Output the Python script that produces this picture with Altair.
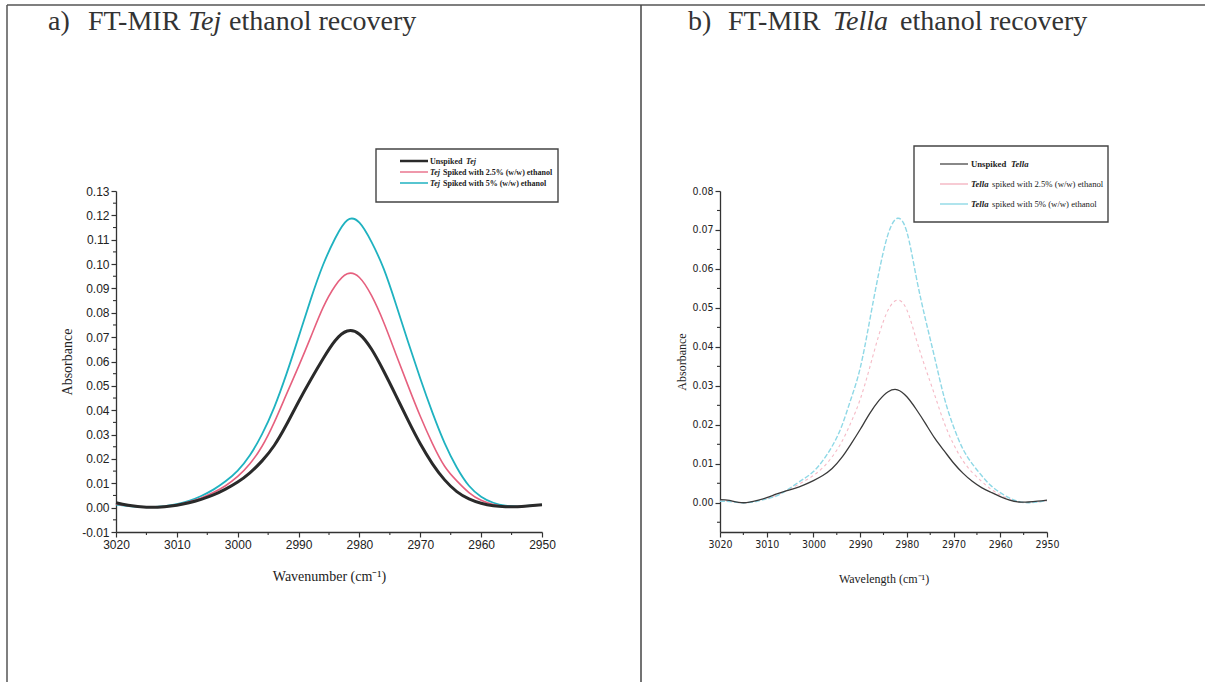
import altair as alt
import pandas as pd

# ---------------- data ----------------
WN = [3020, 3018, 3015, 3012, 3010, 3008, 3006, 3004, 3002, 3000, 2998, 2996,
      2994, 2992, 2990, 2988, 2986, 2984, 2982, 2980, 2978, 2976, 2974, 2972,
      2970, 2968, 2966, 2964, 2962, 2960, 2958, 2956, 2954, 2952, 2950]

TEJ_UNSPIKED = [0.0020, 0.0010, 0.0002, 0.0004, 0.0010, 0.0020, 0.0034, 0.0052, 0.0076, 0.0105,
                0.0143, 0.0192, 0.0255, 0.0340, 0.0435, 0.0525, 0.0610, 0.0685, 0.0725, 0.0712,
                0.0650, 0.0560, 0.0460, 0.0358, 0.0262, 0.0180, 0.0114, 0.0066, 0.0036, 0.0018,
                0.0008, 0.0004, 0.0004, 0.0008, 0.0012]
TEJ_25 = [0.0015, 0.0008, 0.0002, 0.0005, 0.0012, 0.0024, 0.0040, 0.0062, 0.0090, 0.0128,
          0.0180, 0.0252, 0.0350, 0.0465, 0.0580, 0.0700, 0.0820, 0.0910, 0.0960, 0.0945,
          0.0870, 0.0760, 0.0630, 0.0500, 0.0375, 0.0263, 0.0170, 0.0110, 0.0062, 0.0030,
          0.0013, 0.0005, 0.0004, 0.0007, 0.0012]
TEJ_5 = [0.0012, 0.0006, 0.0002, 0.0006, 0.0014, 0.0028, 0.0048, 0.0074, 0.0108, 0.0152,
         0.0215, 0.0302, 0.0412, 0.0548, 0.0700, 0.0855, 0.0995, 0.1105, 0.1180, 0.1170,
         0.1090, 0.0980, 0.0835, 0.0680, 0.0530, 0.0390, 0.0265, 0.0165, 0.0090, 0.0045,
         0.0020, 0.0008, 0.0005, 0.0008, 0.0012]

TELLA_UNSPIKED = [0.0008, 0.0006, 0.0000, 0.0006, 0.0013, 0.0022, 0.0030, 0.0037, 0.0046, 0.0057,
                  0.0070, 0.0088, 0.0115, 0.0150, 0.0188, 0.0228, 0.0262, 0.0285, 0.0290, 0.0272,
                  0.0240, 0.0203, 0.0165, 0.0133, 0.0102, 0.0076, 0.0055, 0.0039, 0.0027, 0.0016,
                  0.0007, 0.0002, 0.0002, 0.0004, 0.0007]
TELLA_25 = [0.0005, 0.0004, 0.0000, 0.0005, 0.0011, 0.0019, 0.0030, 0.0042, 0.0055, 0.0070,
            0.0090, 0.0118, 0.0155, 0.0205, 0.0265, 0.0345, 0.0430, 0.0495, 0.0520, 0.0495,
            0.0420, 0.0345, 0.0275, 0.0205, 0.0150, 0.0108, 0.0078, 0.0055, 0.0035, 0.0020,
            0.0009, 0.0002, 0.0000, 0.0002, 0.0005]
TELLA_5 = [0.0004, 0.0003, 0.0000, 0.0004, 0.0010, 0.0017, 0.0030, 0.0046, 0.0062, 0.0080,
           0.0108, 0.0145, 0.0195, 0.0265, 0.0345, 0.0465, 0.0590, 0.0690, 0.0730, 0.0695,
           0.0580, 0.0470, 0.0370, 0.0270, 0.0195, 0.0138, 0.0100, 0.0070, 0.0044, 0.0026,
           0.0012, 0.0003, 0.0000, 0.0002, 0.0005]

X_TICKS = [3020, 3010, 3000, 2990, 2980, 2970, 2960, 2950]
X_MINOR = [3015, 3005, 2995, 2985, 2975, 2965, 2955]
YA_TICKS = [-0.01, 0.00, 0.01, 0.02, 0.03, 0.04, 0.05, 0.06, 0.07, 0.08, 0.09, 0.10, 0.11, 0.12, 0.13]
YA_MINOR = [-0.005, 0.005, 0.015, 0.025, 0.035, 0.045, 0.055, 0.065, 0.075, 0.085, 0.095,
            0.105, 0.115, 0.125]
YB_TICKS = [0.00, 0.01, 0.02, 0.03, 0.04, 0.05, 0.06, 0.07, 0.08]
YB_MINOR = [-0.005, 0.005, 0.015, 0.025, 0.035, 0.045, 0.055, 0.065, 0.075]

SERIF = "Liberation Serif, Times New Roman, serif"
SANS = "Liberation Sans, Arial, sans-serif"
NARROW = "Liberation Sans Narrow, DejaVu Sans Condensed, Liberation Sans, sans-serif"
MINUS = "replace(datum.label, '\u2212', '-')"

WA, HA = 426, 341
WB, HB = 327, 341

one = pd.DataFrame({"k": [0]})


def txt(s, x, y, size, font=SERIF, italic=False, bold=False, align="left",
        baseline="alphabetic", color="#222"):
    return alt.Chart(one).mark_text(
        text=s, align=align, baseline=baseline, font=font, fontSize=size,
        fontStyle="italic" if italic else "normal",
        fontWeight="bold" if bold else "normal", color=color,
    ).encode(x=alt.value(x), y=alt.value(y))


def hline(x1, x2, y, color, width, dash=None, opacity=1.0):
    kw = dict(color=color, strokeWidth=width, opacity=opacity)
    if dash:
        kw["strokeDash"] = dash
    return alt.Chart(one).mark_rule(**kw).encode(
        x=alt.value(x1), x2=alt.value(x2), y=alt.value(y))


def vline(x, y1, y2, color, width):
    return alt.Chart(one).mark_rule(color=color, strokeWidth=width).encode(
        x=alt.value(x), y=alt.value(y1), y2=alt.value(y2))


def box(x1, x2, y1, y2):
    return alt.Chart(one).mark_rect(fill="white", stroke="#444", strokeWidth=1.4).encode(
        x=alt.value(x1), x2=alt.value(x2), y=alt.value(y1), y2=alt.value(y2))


def panel(series, ydom, yticks, yminor, h, xtitle, lab_font, lab_size,
          t_size, xtitle_pad, ytitle_pad):
    xs = alt.Scale(domain=[2950, 3020], reverse=True, nice=False, zero=False)
    ys = alt.Scale(domain=ydom, nice=False, zero=False)
    xax = alt.Axis(values=X_TICKS, format="d", title=xtitle, tickSize=5, tickWidth=1.2,
                   tickColor="#333", domainColor="#333", domainWidth=1.3,
                   labelFont=lab_font, labelFontSize=lab_size, labelColor="#222",
                   labelPadding=2, labelFlush=False, labelOverlap=False,
                   titleFont=SERIF, titleFontSize=t_size, titleFontWeight="normal",
                   titleColor="#222", titlePadding=xtitle_pad, grid=False)
    yax = alt.Axis(values=yticks, format=".2f", labelExpr=MINUS, title="Absorbance",
                   tickSize=5, tickWidth=1.2, tickColor="#333", domainColor="#333",
                   domainWidth=1.3, labelFont=lab_font, labelFontSize=lab_size,
                   labelColor="#222", labelPadding=2, labelFlush=False, labelOverlap=False,
                   titleFont=SERIF, titleFontSize=t_size, titleFontWeight="normal",
                   titleColor="#222", titlePadding=ytitle_pad, grid=False)
    layers = []
    for vals, name, color, width, dash, op in series:
        df = pd.DataFrame({"W": WN, "A": vals, "s": name})
        kw = dict(color=color, strokeWidth=width, interpolate="natural", opacity=op)
        if dash:
            kw["strokeDash"] = dash
        layers.append(alt.Chart(df).mark_line(**kw).encode(
            x=alt.X("W:Q", scale=xs, axis=xax),
            y=alt.Y("A:Q", scale=ys, axis=yax)))
    ym = pd.DataFrame({"A": yminor})
    layers.append(alt.Chart(ym).mark_rule(color="#333", strokeWidth=1.1).encode(
        y=alt.Y("A:Q", scale=ys, axis=yax), x=alt.value(0), x2=alt.value(-3)))
    xm = pd.DataFrame({"W": X_MINOR})
    layers.append(alt.Chart(xm).mark_rule(color="#333", strokeWidth=1.1).encode(
        x=alt.X("W:Q", scale=xs, axis=xax), y=alt.value(h), y2=alt.value(h + 3)))
    return layers


# ---------------- panel a ----------------
ser_a = [
    (TEJ_5, "5", "#1fb2c0", 1.8, None, 1.0),
    (TEJ_25, "2.5", "#e6607e", 1.6, None, 1.0),
    (TEJ_UNSPIKED, "0", "#2a2a2a", 3.0, None, 1.0),
]
layers_a = panel(ser_a, [-0.01, 0.13], YA_TICKS, YA_MINOR, HA,
                 "Wavenumber (cm\u207b\u00b9)", SANS, 12, 14, 19, 7)

# frame (relative to panel a origin)
frame = [
    hline(-109, 1089, -186, "#555", 1.5),
    vline(-109, -186, 491, "#555", 1.5),
    vline(525, -186, 491, "#444", 1.5),
]
# titles
ty = -161
TS = 28
title_a = [
    txt("a)", -68, ty, TS, color="#333"),
    txt("FT-MIR", -28, ty, TS, color="#333"),
    txt("Tej", 72, ty, TS, italic=True, color="#333"),
    txt("ethanol recovery", 113, ty, TS, color="#333"),
]
title_b = [
    txt("b)", 572, ty, TS, color="#333"),
    txt("FT-MIR", 612, ty, TS, color="#333"),
    txt("Tella", 717, ty, TS, italic=True, color="#333"),
    txt("ethanol recovery", 784, ty, TS, color="#333"),
]
# legend a
LA_X0, LA_X1, LA_T = 284, 312, 314
rows_a = [-30, -19, -8]
legend_a = [
    box(260, 442, -42, 11),
    hline(LA_X0, LA_X1, rows_a[0], "#2a2a2a", 2.5),
    hline(LA_X0, LA_X1, rows_a[1], "#e6607e", 1.3),
    hline(LA_X0, LA_X1, rows_a[2], "#1fb2c0", 1.5),
    txt("Unspiked", LA_T, rows_a[0] + 3, 8, bold=True),
    txt("Tej", LA_T + 36, rows_a[0] + 3, 8, bold=True, italic=True),
    txt("Tej", LA_T, rows_a[1] + 3, 8, bold=True, italic=True),
    txt("Spiked with 2.5% (w/w) ethanol", LA_T + 13, rows_a[1] + 3, 8, bold=True),
    txt("Tej", LA_T, rows_a[2] + 3, 8, bold=True, italic=True),
    txt("Spiked with 5% (w/w) ethanol", LA_T + 13, rows_a[2] + 3, 8, bold=True),
]

chart_a = alt.layer(*layers_a, *frame, *title_a, *title_b, *legend_a).properties(
    width=WA, height=HA)

# ---------------- panel b ----------------
ser_b = [
    (TELLA_25, "2.5", "#f2a9b8", 1.1, [3, 3], 0.8),
    (TELLA_5, "5", "#8fd8e6", 1.4, [5, 2], 1.0),
    (TELLA_UNSPIKED, "0", "#3a3a3a", 1.3, None, 1.0),
]
layers_b = panel(ser_b, [-0.0075, 0.08], YB_TICKS, YB_MINOR, HB,
                 "Wavelength (cm\u207b\u00b9)", NARROW, 10.5, 12, 24, 3)

LB_X0, LB_X1, LB_T = 220, 248, 251
rows_b = [-27, -7, 13]
FB = 8.7
legend_b = [
    box(194, 388, -45, 31),
    hline(LB_X0, LB_X1, rows_b[0], "#3a3a3a", 1.2),
    hline(LB_X0, LB_X1, rows_b[1], "#f2a9b8", 1.2),
    hline(LB_X0, LB_X1, rows_b[2], "#8fd8e6", 1.4),
    txt("Unspiked", LB_T, rows_b[0] + 3, FB, bold=True),
    txt("Tella", LB_T + 40, rows_b[0] + 3, FB, italic=True, bold=True),
    txt("Tella", LB_T, rows_b[1] + 3, FB, italic=True, bold=True),
    txt("spiked with 2.5% (w/w) ethanol", LB_T + 21, rows_b[1] + 3, FB),
    txt("Tella", LB_T, rows_b[2] + 3, FB, italic=True, bold=True),
    txt("spiked with 5% (w/w) ethanol", LB_T + 21, rows_b[2] + 3, FB),
]

chart_b = alt.layer(*layers_b, *legend_b).properties(width=WB, height=HB)

chart = alt.hconcat(chart_a, chart_b, spacing=178, bounds="flush").properties(
    padding={"left": 6, "top": 4, "right": 0, "bottom": 0}
).configure(background="white", view=alt.ViewConfig(strokeWidth=0, stroke="transparent"))

chart.save("out.html", embed_options={"renderer": "svg", "actions": False})
